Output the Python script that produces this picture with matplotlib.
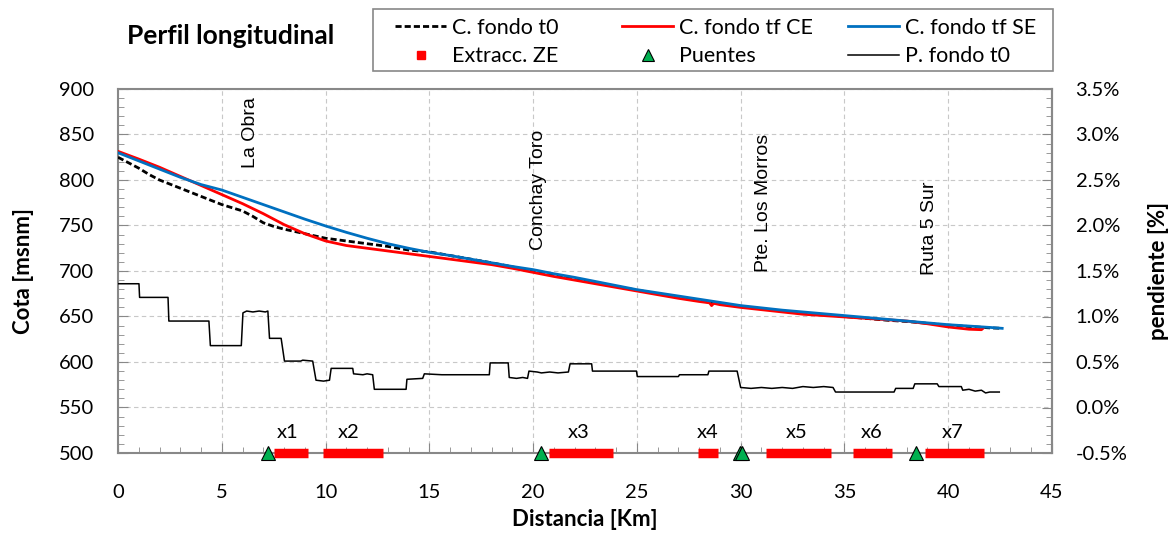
import matplotlib.pyplot as plt
from matplotlib.lines import Line2D
from matplotlib.patches import Rectangle
from matplotlib.ticker import MultipleLocator, FuncFormatter

plt.rcParams['font.family'] = ['Lato', 'DejaVu Sans']

# cotas de fondo [msnm] vs distancia [km]
km_t0 = [0, 0.5, 1, 1.5, 2, 3, 4, 5, 6, 6.5, 7, 7.5, 8, 9, 10, 11, 12, 13, 14, 15,
         16, 17, 18, 19, 20, 21, 22, 23, 24, 25, 26, 27, 28, 29, 30, 31, 32, 33, 34,
         35, 36, 37, 38, 39, 40, 41, 42, 42.6]
cota_t0 = [825, 819, 813, 806, 800, 791, 782, 773, 766, 760, 753, 749, 746, 741, 736,
           733, 730, 727, 723, 721, 717, 713, 709, 704.5, 700, 695.5, 691, 687, 683,
           679, 675, 671, 667.5, 664, 661, 658.5, 656, 654, 652, 650, 648, 646, 644.5,
           642.5, 640.5, 639, 637.5, 637]

km_ce = [0, 1, 2, 3, 4, 5, 6, 7, 8, 9, 10, 11, 12, 13, 14, 15, 16, 17, 18, 19, 20,
         21, 22, 23, 24, 25, 26, 27, 28, 28.5, 28.6, 28.7, 29, 30, 31, 32, 33, 34,
         35, 36, 37, 38, 39, 40, 41, 41.6, 41.7]
cota_ce = [831.5, 823, 814, 804, 794, 784, 774, 763, 751, 741, 733, 728, 725, 722,
           719, 716, 713, 710, 707, 703, 698.5, 694, 690, 686, 682, 678, 674, 670,
           666.5, 665, 662, 664.5, 663, 660, 657.5, 655, 652.5, 651, 649.5, 648,
           646.5, 645, 642, 638.5, 636, 635.5, 637.5]

km_se = [0, 1, 2, 3, 4, 5, 6, 7, 8, 9, 10, 11, 12, 13, 14, 15, 16, 17, 18, 19, 20,
         21, 22, 23, 24, 25, 26, 27, 28, 29, 30, 31, 32, 33, 34, 35, 36, 37, 38, 39,
         40, 41, 42, 42.6]
cota_se = [830, 821, 812, 803, 795, 789, 781, 773, 765, 757, 749.5, 742.5, 736, 730,
           725, 720.5, 717, 713, 709, 705, 701.5, 697, 693, 688.5, 684, 679.5, 676,
           672.5, 669, 665.5, 662, 659.5, 657, 655, 653, 651, 649, 647, 645, 643, 641,
           639.5, 638, 637]

# pendiente de fondo t0 [%]
km_pend = [0, 1.01, 1.04, 2.41, 2.45, 4.38, 4.45, 5.94, 6.02, 6.2, 6.5, 6.8, 7.1, 7.22,
           7.3, 7.86, 8.02, 8.8, 8.9, 9.38, 9.54, 9.9, 10.19, 10.27, 11.31, 11.35, 11.8,
           12.0, 12.27, 12.35, 13.88, 13.92, 14.68, 14.76, 15.6, 17.89, 17.93, 18.8,
           18.85, 19.2, 19.5, 19.73, 19.8, 20.2, 20.4, 20.8, 21.2, 21.7, 21.78, 22.82,
           22.86, 23.5, 24.98, 25.02, 27.0, 27.05, 28.42, 28.47, 29.83, 30.0, 30.5,
           31.0, 31.5, 32.0, 32.5, 33.0, 33.5, 34.0, 34.45, 34.57, 36.0, 37.39, 37.47,
           38.31, 38.39, 39.47, 39.55, 40.63, 40.7, 41.0, 41.3, 41.6, 41.8, 42.0, 42.46]
pend_t0 = [1.36, 1.36, 1.21, 1.21, 0.95, 0.95, 0.68, 0.68, 1.04, 1.06, 1.05, 1.06, 1.05,
           1.06, 0.76, 0.76, 0.51, 0.51, 0.52, 0.51, 0.30, 0.29, 0.30, 0.43, 0.43, 0.37,
           0.36, 0.37, 0.36, 0.20, 0.20, 0.31, 0.32, 0.37, 0.36, 0.36, 0.49, 0.49, 0.33,
           0.32, 0.33, 0.32, 0.40, 0.39, 0.38, 0.39, 0.38, 0.39, 0.48, 0.48, 0.40, 0.40,
           0.40, 0.34, 0.34, 0.36, 0.36, 0.40, 0.40, 0.22, 0.21, 0.22, 0.21, 0.22, 0.21,
           0.23, 0.22, 0.23, 0.22, 0.17, 0.17, 0.17, 0.21, 0.21, 0.26, 0.26, 0.23, 0.23,
           0.19, 0.20, 0.18, 0.19, 0.16, 0.17, 0.17]

# zonas de extraccion [km inicio, km fin]
zonas = ['x1', 'x2', 'x3', 'x4', 'x5', 'x6', 'x7']
zona_ini = [7.5, 9.87, 20.75, 27.95, 31.2, 35.4, 38.9]
zona_fin = [9.15, 12.78, 23.85, 28.92, 34.35, 37.28, 41.7]
zona_lbl = [8.15, 11.1, 22.2, 28.4, 32.7, 36.3, 40.2]

# puentes
puentes_km = [7.25, 20.4, 29.95, 30.05, 38.45]
puentes_nombre = ['La Obra', 'Conchay Toro', 'Pte. Los Morros', 'Ruta 5 Sur']
puentes_lbl_km = [6.4, 20.25, 31.1, 39.1]
puentes_lbl_y = [813, 723, 699, 696]

W, H = 1173, 533
fig = plt.figure(figsize=(W / 100, H / 100), dpi=100)
ax = fig.add_axes([118 / W, 1 - 453 / H, 934 / W, 364 / H])
ax2 = ax.twinx()

ax.plot(km_t0, cota_t0, color='k', lw=2.0, ls=(0, (2.2, 1.1)), zorder=4)
ax.plot(km_ce, cota_ce, color='#FF0000', lw=2.0, zorder=5)
ax.plot(km_se, cota_se, color='#0070C0', lw=2.0, zorder=6)
ax2.plot(km_pend, pend_t0, color='k', lw=1.1)

for a, b in zip(zona_ini, zona_fin):
    ax.plot([a, b], [500, 500], color='#FF0000', lw=6.8, solid_capstyle='butt',
            zorder=7, clip_on=False)
for z, x in zip(zonas, zona_lbl):
    ax.text(x, 522, z, ha='center', va='center', fontsize=14.5)

ax.plot(puentes_km, [500] * len(puentes_km), ls='none', marker='^', ms=10,
        mfc='#00B050', mec='k', mew=0.8, zorder=8, clip_on=False)

for n, x, y in zip(puentes_nombre, puentes_lbl_km, puentes_lbl_y):
    ax.text(x, y, n, rotation=90, ha='center', va='bottom', fontsize=14,
            family=['Liberation Sans', 'DejaVu Sans'])

ax.set_xlim(0, 45)
ax.set_ylim(500, 900)
ax2.set_ylim(-0.5, 3.5)
ax.xaxis.set_major_locator(MultipleLocator(5))
ax.xaxis.set_minor_locator(MultipleLocator(1))
ax.yaxis.set_major_locator(MultipleLocator(50))
ax.yaxis.set_minor_locator(MultipleLocator(10))
ax2.yaxis.set_major_locator(MultipleLocator(0.5))
ax2.yaxis.set_minor_locator(MultipleLocator(0.1))
ax2.yaxis.set_major_formatter(FuncFormatter(lambda v, p: '%.1f%%' % v))

ax.grid(True, which='major', ls=(0, (4, 3)), lw=0.8, color='#c8c8c8')
ax.set_axisbelow(True)
for a in (ax, ax2):
    a.tick_params(which='both', direction='in', colors='#888888', labelcolor='k',
                  labelsize=14.5)
    a.tick_params(which='major', length=7)
    a.tick_params(which='minor', length=4)
    for s in a.spines.values():
        s.set_color('#888888')
        s.set_linewidth(1.5)
for s in ('left', 'bottom', 'top'):
    ax2.spines[s].set_visible(False)
ax.tick_params(axis='x', pad=22)
ax.tick_params(axis='y', pad=17)
ax2.tick_params(axis='y', pad=17)

ax.set_xlabel('Distancia [Km]', fontsize=16, fontweight='bold', labelpad=6)
ax.set_ylabel('Cota [msnm]', fontsize=16, fontweight='bold', labelpad=18)
ax2.set_ylabel('pendiente [%]', fontsize=16, fontweight='bold', labelpad=15)

fig.text(231 / W, 1 - 36 / H, 'Perfil longitudinal', ha='center', va='center',
         fontsize=19, fontweight='bold')

# leyenda: tres columnas de ancho fijo dentro de un marco comun
columnas = [
    ([Line2D([], [], color='k', lw=2.0, ls=(0, (2.2, 1.1))),
      Line2D([], [], ls='none', marker='s', ms=5.5, color='#FF0000')],
     ['C. fondo t0', 'Extracc. ZE'], 395),
    ([Line2D([], [], color='#FF0000', lw=2.0),
      Line2D([], [], ls='none', marker='^', ms=9, mfc='#00B050', mec='k', mew=0.8)],
     ['C. fondo tf CE', 'Puentes'], 622),
    ([Line2D([], [], color='#0070C0', lw=2.0),
      Line2D([], [], color='k', lw=1.1)],
     ['C. fondo tf SE', 'P. fondo t0'], 848),
]
for hs, ls, x0 in columnas:
    fig.legend(hs, ls, loc='upper left', bbox_to_anchor=(x0 / W, 1 - 17.5 / H),
               fontsize=15.5, frameon=False, handlelength=2.37, labelspacing=0.41,
               borderpad=0, borderaxespad=0, handletextpad=0.28)
fig.patches.append(Rectangle((373 / W, 1 - 71 / H), 680 / W, 62 / H,
                             transform=fig.transFigure, fill=False,
                             ec='#888888', lw=1.2))

fig.savefig('out.png', dpi=100)
